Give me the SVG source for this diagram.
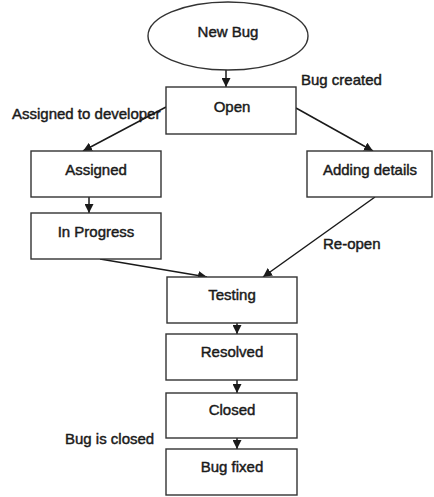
<svg xmlns="http://www.w3.org/2000/svg" width="434" height="497" viewBox="0 0 434 497">
  <style>
    .box { fill: #ffffff; stroke: #333333; stroke-width: 1.4; }
    .lbl, .note { font-family: "Liberation Sans", Arial, sans-serif; font-size: 15px; fill: #1a1a1a; stroke: #1a1a1a; stroke-width: 0.45; }
    .lbl { text-anchor: middle; }
    .edge { stroke: #1a1a1a; stroke-width: 1.5; fill: none; marker-end: url(#arrow); }
  </style>
  <defs>
    <marker id="arrow" viewBox="0 0 10 10" refX="10" refY="5" markerWidth="9" markerHeight="9" markerUnits="userSpaceOnUse" orient="auto">
      <path d="M0,0 L10,5 L0,10 Z" fill="#1a1a1a"/>
    </marker>
  </defs>
  <rect width="434" height="497" fill="#ffffff"/>

  <g id="connectors">
    <line class="edge" x1="226" y1="70" x2="226" y2="87"/>
    <line class="edge" x1="166" y1="107" x2="83" y2="151"/>
    <line class="edge" x1="296" y1="108" x2="373" y2="151"/>
    <line class="edge" x1="89" y1="197" x2="89" y2="213"/>
    <line class="edge" x1="100" y1="259" x2="207" y2="277"/>
    <line class="edge" x1="375" y1="197" x2="263" y2="277"/>
    <line class="edge" x1="237" y1="323" x2="237" y2="334"/>
    <line class="edge" x1="237" y1="380" x2="237" y2="393"/>
    <line class="edge" x1="237" y1="438" x2="237" y2="449"/>
  </g>

  <g id="new-bug">
    <ellipse class="box" cx="228" cy="36" rx="80" ry="34"/>
    <text class="lbl" x="228" y="37">New Bug</text>
  </g>
  <g id="open">
    <rect class="box" x="166" y="87" width="130" height="47"/>
    <text class="lbl" x="232" y="112">Open</text>
  </g>
  <g id="assigned">
    <rect class="box" x="31" y="151" width="130" height="46"/>
    <text class="lbl" x="96" y="175">Assigned</text>
  </g>
  <g id="adding-details">
    <rect class="box" x="307" y="151" width="125" height="46"/>
    <text class="lbl" x="370" y="175">Adding details</text>
  </g>
  <g id="in-progress">
    <rect class="box" x="31" y="213" width="130" height="46"/>
    <text class="lbl" x="96" y="237">In Progress</text>
  </g>
  <g id="testing">
    <rect class="box" x="167" y="277" width="130" height="46"/>
    <text class="lbl" x="232" y="300">Testing</text>
  </g>
  <g id="resolved">
    <rect class="box" x="166" y="334" width="131" height="46"/>
    <text class="lbl" x="232" y="357">Resolved</text>
  </g>
  <g id="closed">
    <rect class="box" x="166" y="393" width="131" height="45"/>
    <text class="lbl" x="232" y="415">Closed</text>
  </g>
  <g id="bug-fixed">
    <rect class="box" x="166" y="449" width="131" height="46"/>
    <text class="lbl" x="232" y="472">Bug fixed</text>
  </g>

  <g id="notes">
    <text class="note" x="301" y="85">Bug created</text>
    <text class="note" x="12" y="119">Assigned to developer</text>
    <text class="note" x="323" y="249">Re-open</text>
    <text class="note" x="65" y="444">Bug is closed</text>
  </g>
</svg>
